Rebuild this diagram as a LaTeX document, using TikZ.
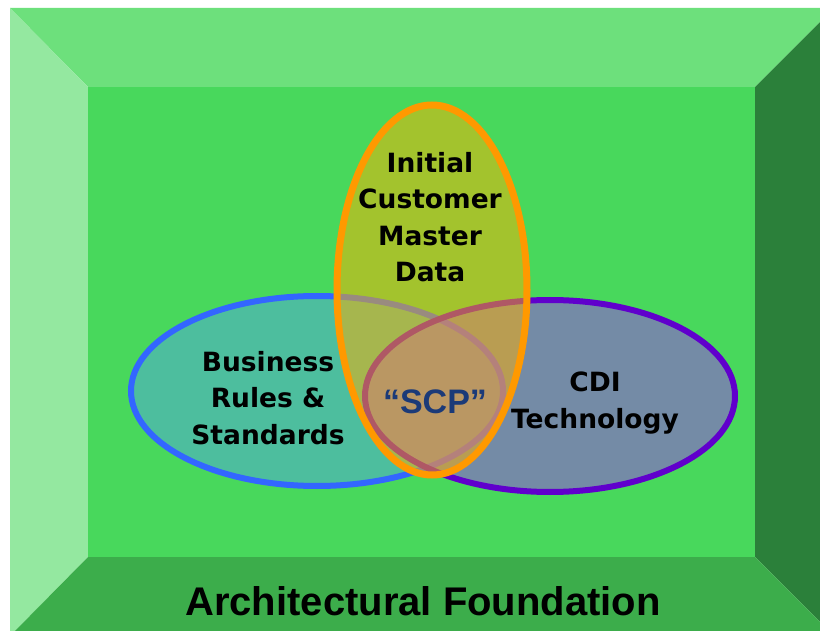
\documentclass[tikz,border=0pt]{standalone}
\usepackage{fontspec}
\newfontfamily\vennfont{DejaVu Sans}
\newfontfamily\basefont{Liberation Sans}
\definecolor{bevtop}{HTML}{6DE07C}
\definecolor{bevleft}{HTML}{94E8A0}
\definecolor{bevright}{HTML}{2B803A}
\definecolor{bevbottom}{HTML}{3CAD4B}
\definecolor{facegreen}{HTML}{48D85C}
\definecolor{rulesblue}{HTML}{3366FF}
\definecolor{rulesfill}{HTML}{52A6E0}
\definecolor{techpurple}{HTML}{6000CC}
\definecolor{techfill}{HTML}{A040F0}
\definecolor{dataorange}{HTML}{FF9900}
\definecolor{datafill}{HTML}{FFB000}
\definecolor{scpnavy}{HTML}{1B3A78}
\begin{document}
\begin{tikzpicture}[x=1pt,y=-1pt,
  venn/.style={line width=6pt, fill opacity=0.5, draw opacity=1},
  venntext/.style={font=\vennfont\bfseries\fontsize{26.5}{36.5}\selectfont, align=center, inner sep=0pt, text=black},
]
\useasboundingbox (0,0) rectangle (820,631);
\fill[white] (0,0) rectangle (820,631);
\begin{scope}
\clip (0,0) rectangle (820,631);
% bevelled frame
\fill[bevtop] (10,8) -- (834,8) -- (755,87) -- (88,87) -- cycle;
\fill[bevleft] (10,8) -- (88,87) -- (88,557) -- (10,636) -- cycle;
\fill[bevright] (834,8) -- (755,87) -- (755,557) -- (834,636) -- cycle;
\fill[bevbottom] (10,636) -- (88,557) -- (755,557) -- (834,636) -- cycle;
\fill[facegreen] (88,87) rectangle (755,557);
\end{scope}
% three overlapping sets
\path[venn, draw=rulesblue, fill=rulesfill] (317,391) ellipse [x radius=186pt, y radius=95pt];
\path[venn, draw=techpurple, fill=techfill] (550,396) ellipse [x radius=185pt, y radius=96pt];
\path[venn, draw=dataorange, fill=datafill, line width=7pt] (432,290) ellipse [x radius=95pt, y radius=185pt];
% labels (base anchor sits on the last line)
\node[venntext, anchor=base] (data) at (430,282) {Initial\\Customer\\Master\\Data};
\node[venntext, anchor=base] (rules) at (268,444) {Business\\Rules \&\\Standards};
\node[venntext, anchor=base] (tech) at (595,428) {CDI\\Technology};
\node[font=\basefont\bfseries\fontsize{34}{38}\selectfont, text=scpnavy, anchor=base, inner sep=0pt] (scp) at (435,413) {“SCP”};
\node[font=\basefont\bfseries\fontsize{40}{44}\selectfont, anchor=base, inner sep=0pt] (found) at (423,615) {Architectural Foundation};
\end{tikzpicture}
\end{document}
